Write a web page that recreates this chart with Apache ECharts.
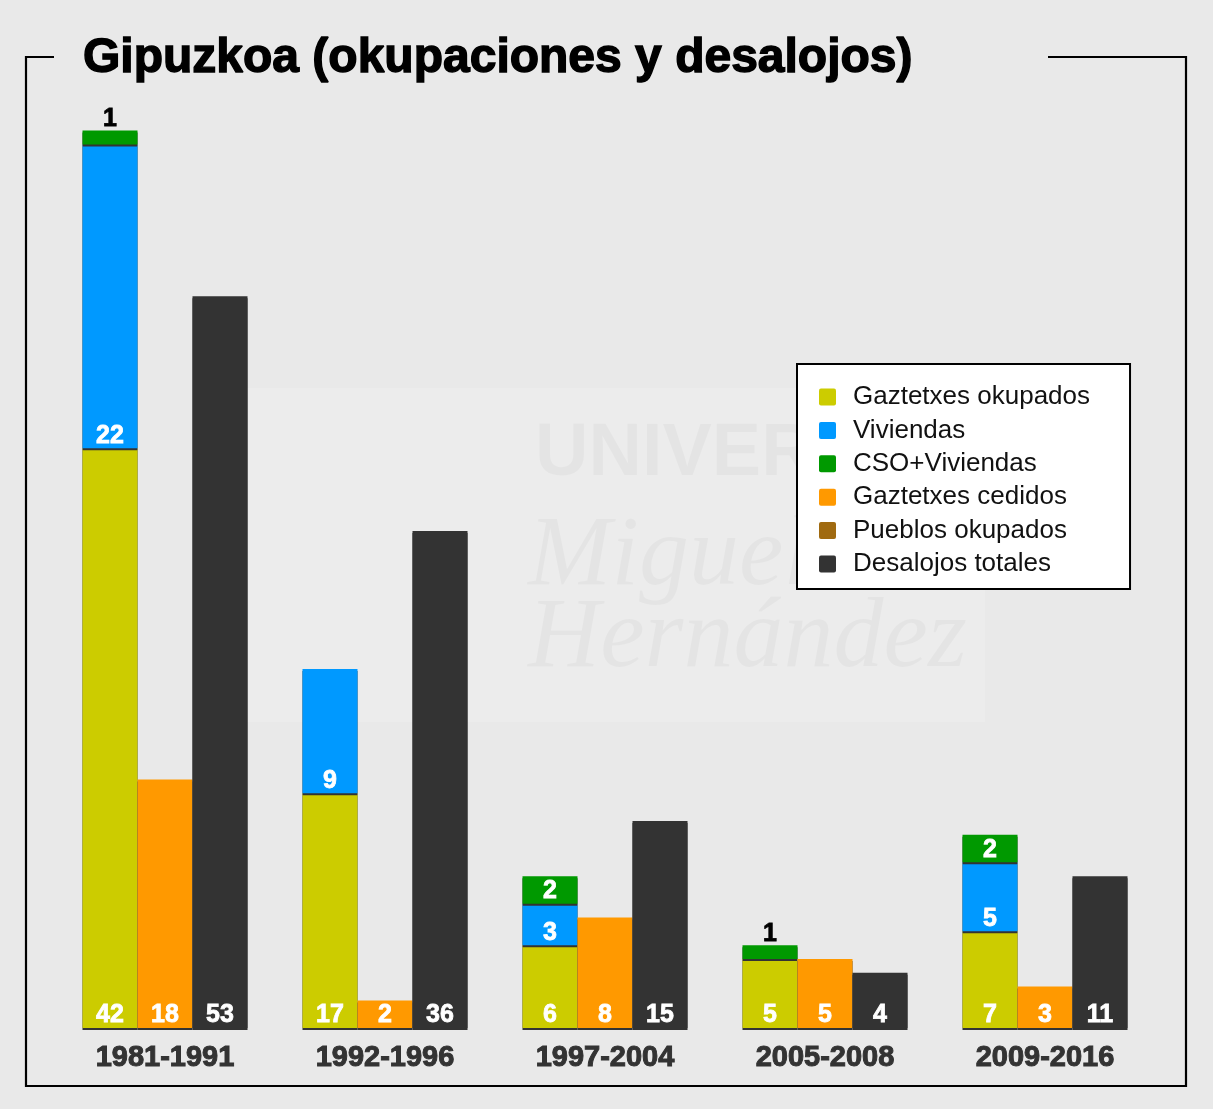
<!DOCTYPE html>
<html>
<head>
<meta charset="utf-8">
<title>Gipuzkoa (okupaciones y desalojos)</title>
<script src="https://cdn.jsdelivr.net/npm/echarts@6/dist/echarts.min.js"></script>
<style>
  html, body { margin: 0; padding: 0; background: #e9e9e9; }
  #chart { width: 1213px; height: 1109px; }
</style>
</head>
<body>
<div id="chart"></div>
<script>
// Periods and counts per period
const categories = ['1981-1991', '1992-1996', '1997-2004', '2005-2008', '2009-2016'];
const gaztetxesOkupados = [42, 17, 6, 5, 7];
const viviendas = [22, 9, 3, 0, 5];
const csoViviendas = [1, 0, 2, 1, 2];
const gaztetxesCedidos = [18, 2, 8, 5, 3];
const pueblosOkupados = [0, 0, 0, 0, 0];
const desalojosTotales = [53, 36, 15, 4, 11];

const FONT = '"Liberation Sans", Arial, Helvetica, sans-serif';
const COLORS = {
  okupados: '#cccc00',
  viviendas: '#0099ff',
  cso: '#009900',
  cedidos: '#ff9900',
  pueblos: '#a06a10',
  desalojos: '#333333'
};

const insideLabel = {
  show: true,
  position: 'insideBottom',
  distance: 0,
  color: '#ffffff',
  fontFamily: FONT,
  fontWeight: 'bold',
  fontSize: 25,
  textBorderColor: '#ffffff',
  textBorderWidth: 0.8
};

// Zero counts get no segment; one-unit segments carry their label above the bar.
function toData(arr) {
  return arr.map(v => {
    if (v === 0) return '-';
    if (v < 2) {
      return {
        value: v,
        label: { position: 'top', distance: -1, color: '#000000', textBorderColor: '#000000' }
      };
    }
    return v;
  });
}

// A thin dark edge under each segment
const segmentStyle = color => ({
  color: color,
  shadowColor: '#333333',
  shadowBlur: 0,
  shadowOffsetX: 0,
  shadowOffsetY: 2
});

function barSeries(name, arr, stack, color, showLabel) {
  return {
    name: name,
    type: 'bar',
    stack: stack,
    barWidth: 55,
    barGap: '0%',
    data: toData(arr),
    itemStyle: segmentStyle(color),
    label: showLabel ? insideLabel : { show: false },
    emphasis: { disabled: true }
  };
}

const chart = echarts.init(document.getElementById('chart'), null, { renderer: 'canvas' });

chart.setOption({
  backgroundColor: '#e9e9e9',
  animation: false,
  title: {
    text: 'Gipuzkoa (okupaciones y desalojos)',
    left: 83,
    top: 35,
    padding: 0,
    textStyle: {
      fontFamily: FONT,
      fontWeight: 'bold',
      fontSize: 48,
      color: '#000000',
      textBorderColor: '#000000',
      textBorderWidth: 1.4
    }
  },
  legend: {
    orient: 'vertical',
    left: 797,
    top: 364,
    backgroundColor: '#ffffff',
    borderColor: '#000000',
    borderWidth: 2,
    borderRadius: 0,
    padding: [20, 40, 12, 22],
    itemWidth: 17,
    itemHeight: 17,
    itemGap: 7.4,
    icon: 'path://M2,0 L15,0 Q17,0 17,2 L17,15 Q17,17 15,17 L2,17 Q0,17 0,15 L0,2 Q0,0 2,0 Z',
    selectedMode: false,
    textStyle: {
      fontFamily: FONT,
      fontSize: 26,
      color: '#111111',
      lineHeight: 26,
      padding: [0, 0, 0, 12]
    },
    data: ['Gaztetxes okupados', 'Viviendas', 'CSO+Viviendas', 'Gaztetxes cedidos', 'Pueblos okupados', 'Desalojos totales']
  },
  grid: {
    left: 55,
    right: 58,
    top: 103,
    bottom: 81,
    containLabel: false
  },
  xAxis: {
    type: 'category',
    data: categories,
    axisLine: { show: false },
    axisTick: { show: false },
    axisLabel: {
      margin: 15,
      fontFamily: FONT,
      fontWeight: 'bold',
      fontSize: 29,
      color: '#333333',
      textBorderColor: '#333333',
      textBorderWidth: 1
    }
  },
  yAxis: {
    type: 'value',
    min: 0,
    max: 67,
    show: false,
    splitLine: { show: false }
  },
  graphic: [
    // faint watermark
    {
      type: 'rect',
      silent: true,
      z: -10,
      shape: { x: 210, y: 388, width: 775, height: 334 },
      style: { fill: 'rgba(255,255,255,0.15)' }
    },
    {
      type: 'text',
      silent: true,
      z: -9,
      x: 535, y: 418,
      style: {
        text: 'UNIVERSITAS',
        font: 'bold 74px "Liberation Sans", Arial, sans-serif',
        fill: 'rgba(0,0,0,0.03)'
      }
    },
    {
      type: 'text',
      silent: true,
      z: -9,
      x: 528, y: 508,
      style: {
        text: 'Miguel',
        font: 'italic 100px "Liberation Serif", "DejaVu Serif", serif',
        fill: 'rgba(0,0,0,0.03)'
      }
    },
    {
      type: 'text',
      silent: true,
      z: -9,
      x: 528, y: 590,
      style: {
        text: 'Hernández',
        font: 'italic 100px "Liberation Serif", "DejaVu Serif", serif',
        fill: 'rgba(0,0,0,0.03)'
      }
    },
    // frame around the chart, open where the title sits
    {
      type: 'polyline',
      silent: true,
      shape: {
        points: [[54, 57], [26, 57], [26, 1086], [1186, 1086], [1186, 57], [1048, 57]]
      },
      style: { stroke: '#000000', lineWidth: 2.2, fill: null }
    }
  ],
  series: [
    barSeries('Gaztetxes okupados', gaztetxesOkupados, 'ocupaciones', COLORS.okupados, true),
    barSeries('Viviendas', viviendas, 'ocupaciones', COLORS.viviendas, true),
    barSeries('CSO+Viviendas', csoViviendas, 'ocupaciones', COLORS.cso, true),
    barSeries('Gaztetxes cedidos', gaztetxesCedidos, 'cedidos', COLORS.cedidos, true),
    barSeries('Pueblos okupados', pueblosOkupados, 'cedidos', COLORS.pueblos, false),
    barSeries('Desalojos totales', desalojosTotales, 'desalojos', COLORS.desalojos, true)
  ]
});
</script>
</body>
</html>
